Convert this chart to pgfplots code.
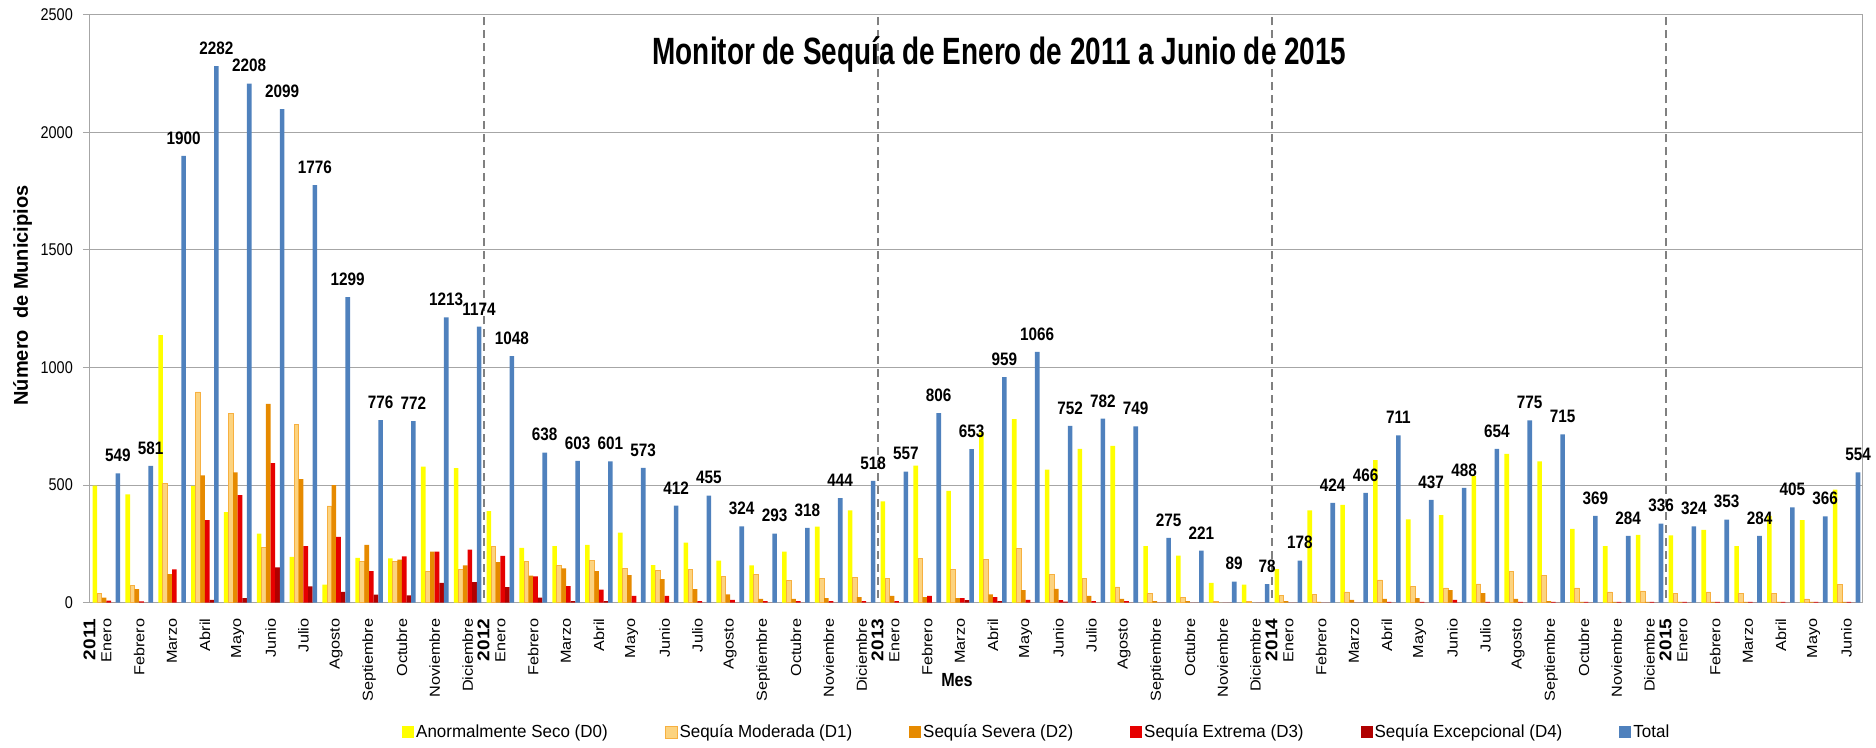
\documentclass[border=0pt]{standalone}
\usepackage{pgfplots}
\pgfplotsset{compat=1.18}
\usepackage{pgfplotstable}
\usepackage{fontspec}
\setmainfont{Liberation Sans}
\newfontfamily\hfont[FakeStretch=0.85]{Liberation Sans}
\newfontfamily\lfont[FakeStretch=0.97]{Liberation Sans}
\newfontfamily\vfont[FakeStretch=1.12]{Liberation Sans}
\newfontfamily\tfont[FakeStretch=0.735]{Liberation Sans}

\definecolor{cD0}{HTML}{FFFF00}
\definecolor{cD1}{HTML}{FCD37F}
\definecolor{cD1e}{HTML}{F7B040}
\definecolor{cD2}{HTML}{E68A00}
\definecolor{cD3}{HTML}{E60000}
\definecolor{cD4}{HTML}{B00000}
\definecolor{cTot}{HTML}{4F81BD}
\definecolor{gridc}{HTML}{A6A6A6}

\newcommand{\yr}[1]{Enero\makebox[0pt][r]{\raisebox{1.1em}[0pt][0pt]{\fontsize{17}{17}\selectfont\bfseries #1}}}

\pgfplotstableread{
x D0 D1 D2 D3 D4 T
0 497 39 21 8 0 549
1 460 73 57 5 0 581
2 1138 507 121 141 0 1900
3 496 896 541 351 11 2282
4 385 803 554 457 19 2208
5 293 236 845 593 150 2099
6 194 758 525 240 69 1776
7 76 411 500 279 45 1299
8 190 175 245 133 33 776
9 188 176 182 196 30 772
10 578 134 216 216 83 1213
11 572 139 158 225 87 1174
12 389 240 172 198 65 1048
13 232 175 114 111 21 638
14 240 158 145 70 6 603
15 245 180 134 55 6 601
16 297 143 117 28 0 573
17 159 137 100 28 0 412
18 255 141 57 6 0 455
19 178 110 35 11 0 324
20 158 120 15 6 0 293
21 216 92 15 6 0 318
22 323 103 19 6 0 444
23 392 107 23 6 0 518
24 430 103 28 6 0 557
25 582 186 23 28 0 806
26 475 141 19 19 10 653
27 724 183 35 23 6 959
28 780 229 53 11 0 1066
29 565 120 58 10 4 752
30 654 104 28 6 0 782
31 667 66 15 6 0 749
32 240 38 6 0 0 275
33 200 23 6 0 0 221
34 83 6 0 0 0 89
35 76 3 0 0 0 78
36 142 30 6 0 0 178
37 392 35 3 0 0 424
38 415 45 11 0 0 466
39 606 96 15 3 0 711
40 354 70 19 3 0 437
41 372 62 53 11 0 488
42 538 79 40 3 0 654
43 632 134 15 3 0 775
44 601 114 6 3 0 715
45 313 62 3 3 0 369
46 240 45 3 3 0 284
47 288 49 3 3 0 336
48 286 40 3 3 0 324
49 309 45 3 3 0 353
50 240 40 3 3 0 284
51 369 38 3 3 0 405
52 351 15 3 3 0 366
53 480 76 3 3 0 554
}\data

\begin{document}
\begin{tikzpicture}
\path[use as bounding box] (-90pt,-144.5pt) rectangle (1786pt,602.5pt);
\begin{axis}[
  at={(0pt,0pt)}, anchor=south west,
  scale only axis,
  width=1773pt, height=587.5pt,
  xmin=-0.5, xmax=53.5,
  ymin=0, ymax=2500,
  ytick={0,500,1000,1500,2000,2500},
  ybar=0pt,
  bar width=0.14,
  xtick={0,...,53},
  xticklabels={\yr{2011},Febrero,Marzo,Abril,Mayo,Junio,Julio,Agosto,Septiembre,Octubre,Noviembre,Diciembre,
               \yr{2012},Febrero,Marzo,Abril,Mayo,Junio,Julio,Agosto,Septiembre,Octubre,Noviembre,Diciembre,
               \yr{2013},Febrero,Marzo,Abril,Mayo,Junio,Julio,Agosto,Septiembre,Octubre,Noviembre,Diciembre,
               \yr{2014},Febrero,Marzo,Abril,Mayo,Junio,Julio,Agosto,Septiembre,Octubre,Noviembre,Diciembre,
               \yr{2015},Febrero,Marzo,Abril,Mayo,Junio},
  tick align=outside,
  major tick length=7pt,
  tick style={gridc, line width=1pt},
  xtick style={draw=none},
  ytick pos=left,
  xtick pos=bottom,
  ymajorgrids,
  major grid style={gridc, line width=1pt},
  axis line style={gridc, line width=1pt},
  /pgf/number format/1000 sep={},
  /pgf/number format/assume math mode=true,
  xticklabel style={rotate=90, anchor=east, font=\vfont\fontsize{14.5}{14.5}\selectfont, inner sep=0pt, xshift=-9pt},
  yticklabel style={font=\hfont\fontsize{17}{17}\selectfont, inner sep=0pt, xshift=-10pt},
  title={Monitor de Sequía de Enero de 2011 a Junio de 2015},
  title style={at={(axis description cs:0.513,0.922)}, anchor=center, font=\tfont\bfseries\fontsize{38}{38}\selectfont},
  ylabel={Número\ \ de Municipios},
  ylabel style={at={(axis description cs:-0.038,0.5226)}, anchor=center, font=\bfseries\fontsize{20}{20}\selectfont},
  xlabel={Mes},
  xlabel style={at={(axis description cs:0.489,-0.132)}, anchor=center, font=\hfont\bfseries\fontsize{19}{19}\selectfont},
  legend columns=6,
  legend style={at={(axis description cs:0.534,-0.2204)}, anchor=center, draw=none, fill=none,
     font=\lfont\fontsize{17.5}{17.5}\selectfont,
     /tikz/every even column/.append style={column sep=55pt}},
  legend image code/.code={\fill[#1] (0pt,-6pt) rectangle (12pt,6pt);},
]
\addplot[fill=cD0, draw=none] table[x=x,y=D0]{\data};
\addplot[fill=cD1, draw=cD1e, line width=0.8pt] table[x=x,y=D1]{\data};
\addplot[fill=cD2, draw=none] table[x=x,y=D2]{\data};
\addplot[fill=cD3, draw=none] table[x=x,y=D3]{\data};
\addplot[fill=cD4, draw=none] table[x=x,y=D4]{\data};
\addplot[fill=cTot, draw=none, nodes near coords,
  nodes near coords style={text=black, font=\hfont\bfseries\fontsize{18}{18}\selectfont, yshift=8pt}]
  table[x=x,y=T]{\data};
\legend{Anormalmente Seco (D0),Sequía Moderada (D1),Sequía Severa (D2),Sequía Extrema (D3),Sequía Excepcional (D4),Total}
\foreach \b in {-0.5,0.5,...,53.5}{
  \edef\tmp{\noexpand\draw[gridc, line width=1pt] (axis cs:\b,0) -- ([yshift=-8pt]axis cs:\b,0);}
  \tmp
}
\foreach \b in {11.5,23.5,35.5,47.5}{
  \edef\tmp{\noexpand\draw[gray, line width=1.6pt, dash pattern=on 8pt off 5pt] ([yshift=-8pt]axis cs:\b,0) -- (axis cs:\b,2500);}
  \tmp
}
\end{axis}
\end{tikzpicture}
\end{document}
